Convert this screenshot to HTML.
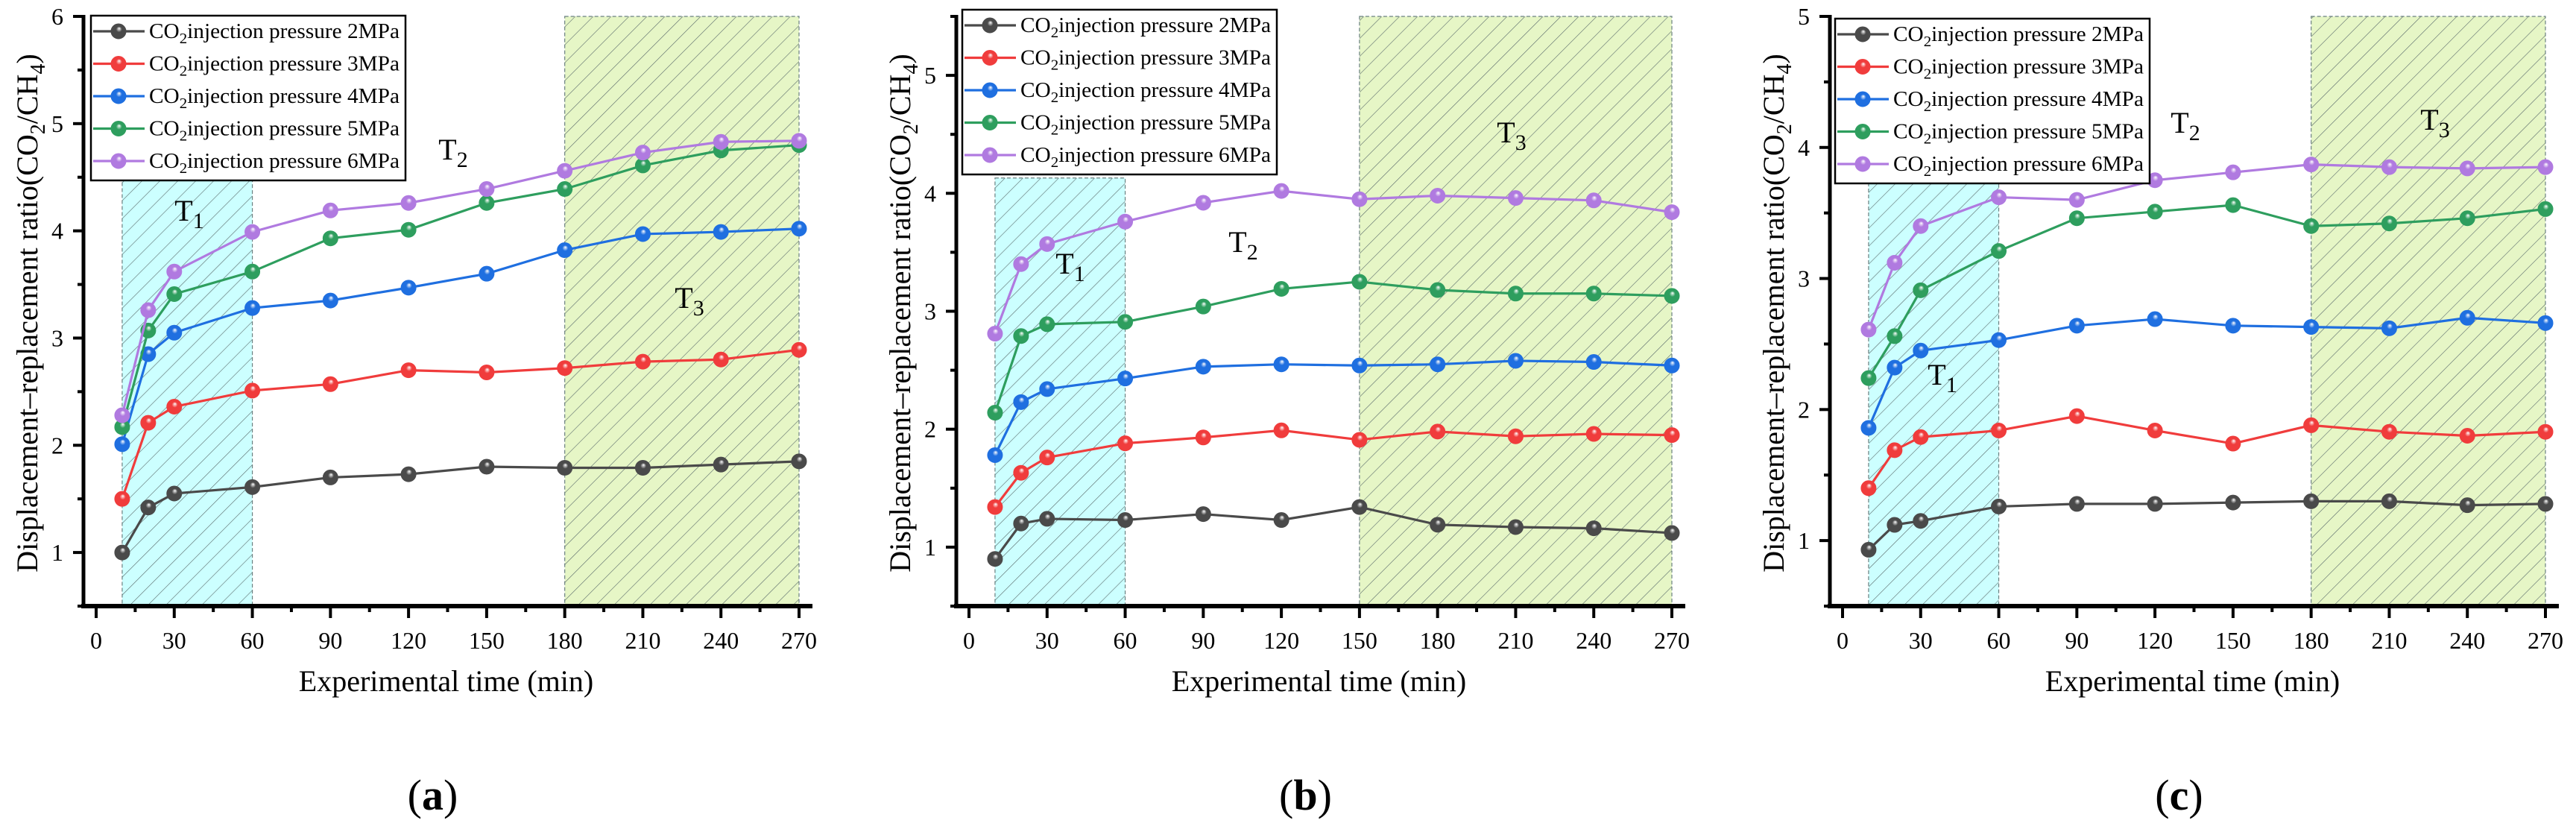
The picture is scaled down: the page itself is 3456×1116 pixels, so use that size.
<!DOCTYPE html>
<html><head><meta charset="utf-8"><style>
html,body{margin:0;padding:0;background:#fff;}
svg{display:block;font-family:"Liberation Serif","Times New Roman",serif;}
text{font-family:"Liberation Serif","Times New Roman",serif;}
</style></head><body>
<svg id="fig" width="3456" height="1116" viewBox="0 0 3456 1116" xmlns="http://www.w3.org/2000/svg" font-family="Liberation Serif, serif">
<defs>
<pattern id="hatch" patternUnits="userSpaceOnUse" width="17" height="17" patternTransform="rotate(45)">
<line x1="0" y1="0" x2="0" y2="17" stroke="#5a6a6a" stroke-width="1.2"/>
</pattern>
</defs>
</svg>
<script>
const times = [10,20,30,60,90,120,150,180,210,240,270];
const seriesNames = ["2MPa","3MPa","4MPa","5MPa","6MPa"];
const colors = ["#4a4a4a","#f03c3c","#1f6fe0","#2e9e5e","#b07ae0"];
const a2 = [1.00,1.42,1.55,1.61,1.70,1.73,1.80,1.79,1.79,1.82,1.85];
const a3 = [1.50,2.21,2.36,2.51,2.57,2.70,2.68,2.72,2.78,2.80,2.89];
const a4 = [2.01,2.85,3.05,3.28,3.35,3.47,3.60,3.82,3.97,3.99,4.02];
const a5 = [2.17,3.07,3.41,3.62,3.93,4.01,4.26,4.39,4.61,4.75,4.80];
const a6 = [2.28,3.26,3.62,3.99,4.19,4.26,4.39,4.56,4.73,4.83,4.84];
const b2 = [0.90,1.20,1.24,1.23,1.28,1.23,1.34,1.19,1.17,1.16,1.12];
const b3 = [1.34,1.63,1.76,1.88,1.93,1.99,1.91,1.98,1.94,1.96,1.95];
const b4 = [1.78,2.23,2.34,2.43,2.53,2.55,2.54,2.55,2.58,2.57,2.54];
const b5 = [2.14,2.79,2.89,2.91,3.04,3.19,3.25,3.18,3.15,3.15,3.13];
const b6 = [2.81,3.40,3.57,3.76,3.92,4.02,3.95,3.98,3.96,3.94,3.84];
const c2 = [0.93,1.12,1.15,1.26,1.28,1.28,1.29,1.30,1.30,1.27,1.28];
const c3 = [1.40,1.69,1.79,1.84,1.95,1.84,1.74,1.88,1.83,1.80,1.83];
const c4 = [1.86,2.32,2.45,2.53,2.64,2.69,2.64,2.63,2.62,2.70,2.66];
const c5 = [2.24,2.56,2.91,3.21,3.46,3.51,3.56,3.40,3.42,3.46,3.53];
const c6 = [2.61,3.12,3.40,3.62,3.60,3.75,3.81,3.87,3.85,3.84,3.85];
const xTicks = [0,30,60,90,120,150,180,210,240,270];
const yMaxA = 6, yMaxB = 5.5, yMaxC = 5;
const shadeT1 = [[10,60,4.5],[10,60,4.13],[10,60,3.73]];
const shadeT3 = [[180,270,6],[150,270,5.5],[180,270,5]];

const NS="http://www.w3.org/2000/svg";
const FF="Liberation Serif, Times New Roman, serif";
const svg=document.getElementById('fig');
const defs=svg.querySelector('defs');
function mk(tag,attrs,parent){const e=document.createElementNS(NS,tag);for(const k in attrs)e.setAttribute(k,attrs[k]);if(tag==='text')e.setAttribute('font-family',FF);(parent||svg).appendChild(e);return e;}
colors.forEach((c,i)=>{
  const g=mk('radialGradient',{id:'g'+i,cx:'0.5',cy:'0.5',r:'0.55',fx:'0.55',fy:'0.3'},defs);
  mk('stop',{offset:'0','stop-color':'#ffffff'},g);
  mk('stop',{offset:'0.35','stop-color':c},g);
  mk('stop',{offset:'1','stop-color':c},g);
});

const panels=[
 {id:'a',x0:129,yMax:yMaxA,data:[a2,a3,a4,a5,a6],yTicks:[1,2,3,4,5,6],t1:shadeT1[0],t3:shadeT3[0],
  lg:[122,21],T1:[254,296],T2:[608,214],T3:[925,413]},
 {id:'b',x0:1300,yMax:yMaxB,data:[b2,b3,b4,b5,b6],yTicks:[1,2,3,4,5],t1:shadeT1[1],t3:shadeT3[1],
  lg:[1291,13],T1:[1436,367],T2:[1668,338],T3:[2028,191]},
 {id:'c',x0:2472,yMax:yMaxC,data:[c2,c3,c4,c5,c6],yTicks:[1,2,3,4,5],t1:shadeT1[2],t3:shadeT3[2],
  lg:[2462,25],T1:[2606,516],T2:[2932,178],T3:[3267,174]}
];
const yBottom=813, yTop=22, yMin=0.5, xSpan=943;

panels.forEach(p=>{
  const g=mk('g',{});
  
  
  const X=v=>p.x0+v/270*xSpan;
  const Y=v=>yBottom-(v-yMin)/(p.yMax-yMin)*(yBottom-yTop);
  const axL=p.x0-17, axR=X(270)+18;
  [[p.t1,'#ccffff','t1'],[p.t3,'#e6f6c6','t3']].forEach(([s,fill,nm])=>{
    const r=mk('rect',{x:X(s[0]),y:Y(s[2]),width:X(s[1])-X(s[0]),height:yBottom-Y(s[2]),fill:fill,stroke:'#6a8080','stroke-width':1.2,'stroke-dasharray':'5,3'},g);
    
    
    mk('rect',{x:X(s[0]),y:Y(s[2]),width:X(s[1])-X(s[0]),height:yBottom-Y(s[2]),fill:'url(#hatch)'},g);
  });
  const ax=mk('line',{x1:axL-3,y1:yBottom,x2:axR,y2:yBottom,stroke:'#000','stroke-width':6},g);
  
  
  const ay=mk('line',{x1:axL,y1:yBottom+3,x2:axL,y2:yTop-2,stroke:'#000','stroke-width':5},g);
  
  
  for(let v=0;v<=270;v+=15){
    const major=v%30===0;
    mk('line',{x1:X(v),y1:yBottom,x2:X(v),y2:yBottom+(major?16:8),stroke:'#000','stroke-width':4},g);
  }
  xTicks.forEach(v=>{
    const t=mk('text',{x:X(v),y:yBottom+57,'text-anchor':'middle','font-size':32},g);
    t.textContent=v;
    
    
  });
  for(let v=yMin;v<=p.yMax+1e-9;v+=0.5){
    const major=Math.abs(v-Math.round(v))<1e-9;
    mk('line',{x1:axL,y1:Y(v),x2:axL-(major?14:8),y2:Y(v),stroke:'#000','stroke-width':4},g);
  }
  p.yTicks.forEach(v=>{
    const t=mk('text',{x:axL-35,y:Y(v)+11,'text-anchor':'middle','font-size':32},g);
    t.textContent=v;
    
    
  });
  const xt=mk('text',{x:(X(0)+X(270))/2-2,y:927,'text-anchor':'middle','font-size':40},g);
  xt.textContent='Experimental time (min)';
  
  
  const ytx=axL-62;
  const yt=mk('text',{x:0,y:0,'text-anchor':'middle','font-size':40,transform:`translate(${ytx},420) rotate(-90)`},g);
  yt.innerHTML='Displacement–replacement ratio(CO<tspan font-size="28" dy="10">2</tspan><tspan dy="-10">/CH</tspan><tspan font-size="28" dy="10">4</tspan><tspan dy="-10">)</tspan>';
  
  
  p.data.forEach((arr,si)=>{
    const pts=arr.map((v,i)=>X(times[i])+','+Y(v)).join(' ');
    const pl=mk('polyline',{points:pts,fill:'none',stroke:colors[si],'stroke-width':3.2},g);
    
    
    arr.forEach((v,i)=>{
      const c=mk('circle',{cx:X(times[i]),cy:Y(v),r:10,fill:`url(#g${si})`,stroke:colors[si],'stroke-width':1},g);
      
      
    });
  });
  [['T1',p.T1,'1'],['T2',p.T2,'2'],['T3',p.T3,'3']].forEach(([nm,pos,sub])=>{
    const t=mk('text',{x:pos[0],y:pos[1],'text-anchor':'middle','font-size':40},g);
    t.innerHTML='T<tspan font-size="30" dy="10">'+sub+'</tspan>';
    
    
  });
  const lg=mk('g',{},g);
  
  
  const [lx,ly]=p.lg;
  mk('rect',{x:lx,y:ly,width:422,height:221,fill:'#fff',stroke:'#000','stroke-width':2.5},lg);
  seriesNames.forEach((nm,i)=>{
    const ry=ly+21+i*43.5;
    const e=mk('g',{},lg);
    
    
    mk('line',{x1:lx+3,y1:ry,x2:lx+72,y2:ry,stroke:colors[i],'stroke-width':3.2},e);
    mk('circle',{cx:lx+37,cy:ry,r:10,fill:`url(#g${i})`,stroke:colors[i],'stroke-width':1},e);
    const t=mk('text',{x:lx+78,y:ry+9,'font-size':28,textLength:336,lengthAdjust:'spacingAndGlyphs'},e);
    t.innerHTML='CO<tspan font-size="20" dy="7">2</tspan><tspan dy="-7">injection pressure '+nm+'</tspan>';
  });
  const lab=mk('text',{x:(X(0)+X(270))/2-20,y:1086,'text-anchor':'middle','font-size':58,'font-weight':'bold'},g);
  lab.innerHTML='<tspan font-weight="normal">(</tspan>'+p.id+'<tspan font-weight="normal">)</tspan>';
  
  
});
</script>
</body></html>
